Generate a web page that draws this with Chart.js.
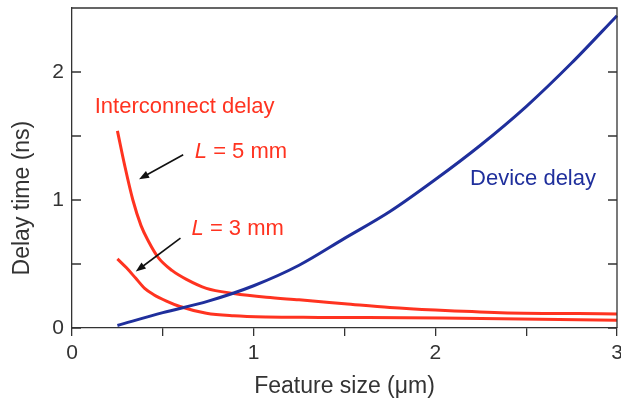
<!DOCTYPE html>
<html>
<head>
<meta charset="utf-8">
<script src="https://cdn.jsdelivr.net/npm/chart.js@4.4.1/dist/chart.umd.min.js"></script>
<style>
html, body { margin: 0; padding: 0; background: #fff; }
</style>
</head>
<body>
<canvas id="delayChart" width="621" height="400"></canvas>
<script>
// feature size in um, delay in ns
var deviceSize = [0.25, 0.5, 0.75, 1.0, 1.25, 1.5, 1.75, 2.0, 2.25, 2.5, 2.75, 3.0];
var deviceDelay = [0.02, 0.12, 0.21, 0.33, 0.49, 0.70, 0.91, 1.16, 1.43, 1.73, 2.07, 2.44];

var size5mm = [0.25, 0.29, 0.335, 0.38, 0.42, 0.475, 0.55, 0.63, 0.74, 0.89, 1.07, 1.25, 1.5, 1.75, 2.0, 2.36, 3.0];
var delay5mm = [1.54, 1.27, 1.0, 0.80, 0.68, 0.55, 0.45, 0.38, 0.31, 0.27, 0.24, 0.22, 0.19, 0.16, 0.14, 0.12, 0.11];

var size3mm = [0.25, 0.30, 0.35, 0.40, 0.45, 0.52, 0.59, 0.74, 0.89, 1.07, 1.36, 2.04, 3.0];
var delay3mm = [0.54, 0.47, 0.39, 0.31, 0.26, 0.21, 0.17, 0.115, 0.095, 0.086, 0.083, 0.078, 0.06];

var xTicks = [0, 1, 2, 3];
var yTicks = [0, 1, 2];

var red = '#ff3320';
var blue = '#1f2f9c';
var axisColor = '#333333';
var fontFamily = '"Liberation Sans", Arial, Helvetica, sans-serif';

function toPoints(xs, ys) {
	var pts = [];
	for (var i = 0; i < xs.length; i++) {
		pts.push({ x : xs[i], y : ys[i] });
	}
	return pts;
}

// labels and arrows, anchored in data units
var notes = [
	{ text : 'Interconnect delay', x : 0.125, y : 1.68, color : red },
	{ italic : 'L', text : ' = 5 mm', x : 0.676, y : 1.327, color : red },
	{ italic : 'L', text : ' = 3 mm', x : 0.658, y : 0.728, color : red },
	{ text : 'Device delay', x : 2.191, y : 1.119, color : blue }
];
var arrows = [
	{ x0 : 0.612, y0 : 1.353, x1 : 0.369, y1 : 1.163 },
	{ x0 : 0.597, y0 : 0.702, x1 : 0.351, y1 : 0.441 }
];

var framePlugin = {
	id : 'frame',
	afterDraw : function(c) {
		var ctx = c.ctx, a = c.chartArea, xs = c.scales.x, ys = c.scales.y;
		ctx.save();
		ctx.strokeStyle = axisColor;
		ctx.lineWidth = 1.3;
		ctx.beginPath();
		ctx.moveTo(a.left, a.top);
		ctx.lineTo(a.right, a.top);
		ctx.lineTo(a.right, a.bottom);
		ys.ticks.forEach(function(t) {
			var py = ys.getPixelForValue(t.value);
			ctx.moveTo(a.left, py);
			ctx.lineTo(a.left + 9, py);
			ctx.moveTo(a.right, py);
			ctx.lineTo(a.right - 9, py);
		});
		ctx.stroke();

		// y axis title, sits lower than the plot middle in the original
		ctx.fillStyle = axisColor;
		ctx.font = '23px ' + fontFamily;
		ctx.textAlign = 'center';
		ctx.textBaseline = 'middle';
		ctx.translate(23, ys.getPixelForValue(1.015));
		ctx.rotate(-Math.PI / 2);
		ctx.fillText('Delay time (ns)', 0, 0);
		ctx.restore();

		ctx.save();
		notes.forEach(function(n) {
			var px = xs.getPixelForValue(n.x), py = ys.getPixelForValue(n.y);
			ctx.fillStyle = n.color;
			ctx.textBaseline = 'alphabetic';
			ctx.textAlign = 'left';
			if (n.italic) {
				ctx.font = 'italic 22px ' + fontFamily;
				ctx.fillText(n.italic, px, py);
				px += ctx.measureText(n.italic).width;
			}
			ctx.font = '22px ' + fontFamily;
			ctx.fillText(n.text, px, py);
		});

		ctx.strokeStyle = '#111';
		ctx.fillStyle = '#111';
		ctx.lineWidth = 1.6;
		arrows.forEach(function(ar) {
			var sx = xs.getPixelForValue(ar.x0), sy = ys.getPixelForValue(ar.y0);
			var ex = xs.getPixelForValue(ar.x1), ey = ys.getPixelForValue(ar.y1);
			var ang = Math.atan2(ey - sy, ex - sx), head = 10, half = 3.8;
			ctx.beginPath();
			ctx.moveTo(sx, sy);
			ctx.lineTo(ex - Math.cos(ang) * head * 0.8, ey - Math.sin(ang) * head * 0.8);
			ctx.stroke();
			ctx.beginPath();
			ctx.moveTo(ex, ey);
			ctx.lineTo(ex - Math.cos(ang) * head + Math.sin(ang) * half, ey - Math.sin(ang) * head - Math.cos(ang) * half);
			ctx.lineTo(ex - Math.cos(ang) * head - Math.sin(ang) * half, ey - Math.sin(ang) * head + Math.cos(ang) * half);
			ctx.closePath();
			ctx.fill();
		});
		ctx.restore();
	}
};

function lineSet(xs, ys, color) {
	return {
		data : toPoints(xs, ys),
		borderColor : color,
		borderWidth : 3,
		pointRadius : 0,
		fill : false,
		cubicInterpolationMode : 'monotone',
		clip : false
	};
}

var myChart = new Chart(document.getElementById('delayChart').getContext('2d'), {
	type : 'line',
	data : {
		datasets : [ lineSet(deviceSize, deviceDelay, blue),
				lineSet(size5mm, delay5mm, red),
				lineSet(size3mm, delay3mm, red) ]
	},
	options : {
		responsive : false,
		animation : false,
		layout : { padding : { left : 0, right : 4, top : 8, bottom : 0 } },
		plugins : {
			legend : { display : false },
			tooltip : { enabled : false }
		},
		scales : {
			x : {
				type : 'linear',
				min : 0,
				max : 3,
				border : { display : true, color : axisColor, width : 1.3 },
				grid : { drawOnChartArea : false, drawTicks : true, tickLength : 8, color : axisColor, lineWidth : 1.3 },
				ticks : {
					stepSize : 0.5,
					padding : 5,
					color : axisColor,
					maxRotation : 0,
					font : { family : fontFamily, size : 21 },
					callback : function(v) { return xTicks.indexOf(v) >= 0 ? String(v) : ''; }
				},
				title : {
					display : true,
					text : 'Feature size (\u03bcm)',
					color : axisColor,
					font : { family : fontFamily, size : 23 },
					padding : { top : 0, bottom : 0 }
				},
				afterFit : function(s) {
					s.height = 72;
					s.paddingLeft = 0;
					s.paddingRight = 0;
				}
			},
			y : {
				min : 0,
				max : 2.5,
				border : { display : true, color : axisColor, width : 1.3 },
				grid : { drawOnChartArea : false, drawTicks : false },
				ticks : {
					stepSize : 0.5,
					padding : 8,
					color : axisColor,
					font : { family : fontFamily, size : 21 },
					callback : function(v) { return yTicks.indexOf(v) >= 0 ? String(v) : ''; }
				},
				afterFit : function(s) {
					s.width = 72;
					s.paddingTop = 0;
					s.paddingBottom = 0;
				}
			}
		}
	},
	plugins : [ framePlugin ]
});
</script>
</body>
</html>
